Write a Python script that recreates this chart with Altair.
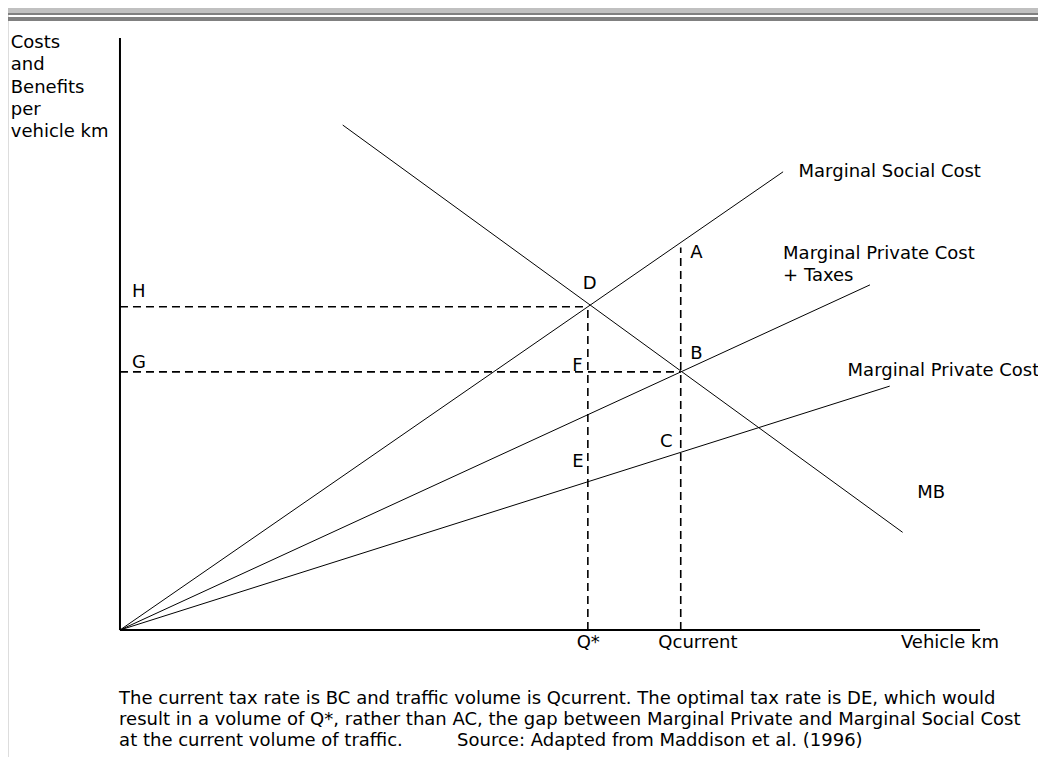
import altair as alt
import pandas as pd

# ---- data (axis units: 0..100 on both axes) ----
curve_names = ["Marginal Social Cost", "Marginal Private Cost + Taxes", "Marginal Private Cost", "MB"]
curve_x0 = [0.0, 0.0, 0.0, 25.9]
curve_y0 = [0.0, 0.0, 0.0, 85.3]
curve_x1 = [77.1, 87.2, 89.5, 91.0]
curve_y1 = [77.4, 58.3, 41.2, 16.5]

q_star = 54.4
q_current = 65.2
h_level = 54.6
g_level = 43.6
a_level = 64.6

# guide lines: (x, x2, y, y2)
guide_x = [0.0, 0.0, q_star, q_current]
guide_x2 = [q_star, q_current, q_star, q_current]
guide_y = [h_level, g_level, 0.0, 0.0]
guide_y2 = [h_level, g_level, h_level, a_level]

point_labels = ["H", "G", "D", "A", "B", "F", "C", "E"]
point_lx = [1.4, 1.4, 53.8, 66.3, 66.3, 52.6, 62.8, 52.6]
point_ly = [57.1, 45.1, 58.4, 63.7, 46.6, 44.6, 31.8, 28.4]

curve_labels = ["Marginal Social Cost", "Marginal Private Cost", "+ Taxes", "Marginal Private Cost", "MB"]
curve_lx = [78.9, 77.1, 77.1, 84.6, 92.7]
curve_ly = [77.4, 63.5, 59.8, 43.8, 23.1]

axis_labels = ["Q*", "Qcurrent", "Vehicle km"]
axis_lx = [53.1, 62.6, 90.8]
axis_ly = [-2.2, -2.2, -2.2]

ylabel_lines = ["Costs", "and", "Benefits", "per", "vehicle km"]
ylabel_x = -12.7
ylabel_y = [99.1, 95.4, 91.6, 87.8, 84.1]

caption_lines = [
    "The current tax rate is BC and traffic volume is Qcurrent. The optimal tax rate is DE, which would",
    "result in a volume of Q*, rather than AC, the gap between Marginal Private and Marginal Social Cost",
    "at the current volume of traffic.",
    "Source: Adapted from Maddison et al. (1996)",
]
caption_x = [-0.1, -0.1, -0.1, 39.2]
caption_y = [-11.7, -15.2, -18.75, -18.75]

# ---- scales: the plot area covers the whole canvas ----
W, H = 1030, 749
xs = alt.Scale(domain=[-13.02, 106.74], range=[0, W], nice=False, zero=False)
ys = alt.Scale(domain=[-21.45, 105.07], range=[H, 0], nice=False, zero=False)
FONT = "DejaVu Sans"

rows = []
for n, a, b, c, d in zip(curve_names, curve_x0, curve_y0, curve_x1, curve_y1):
    rows.append({"curve": n, "x": a, "y": b, "x2": c, "y2": d})
curves = pd.DataFrame(rows)

guides = pd.DataFrame({"x": guide_x, "x2": guide_x2, "y": guide_y, "y2": guide_y2})
axes_df = pd.DataFrame({"x": [0.0, 0.0], "x2": [0.0, 100.0], "y": [0.0, 0.0], "y2": [100.0, 0.0]})

def X(f="x"):
    return alt.X(f + ":Q", scale=xs, axis=None)

def Y(f="y"):
    return alt.Y(f + ":Q", scale=ys, axis=None)

one = pd.DataFrame({"k": [0]})
header = alt.Chart(one).mark_rect(color="#c0c0c0").encode(
    x=alt.value(0), x2=alt.value(W), y=alt.value(0), y2=alt.value(5))
band1 = alt.Chart(one).mark_rect(color="#808080").encode(
    x=alt.value(0), x2=alt.value(W), y=alt.value(5), y2=alt.value(7))
band2 = alt.Chart(one).mark_rect(color="#808080").encode(
    x=alt.value(0), x2=alt.value(W), y=alt.value(9), y2=alt.value(13))

axes = alt.Chart(axes_df).mark_rule(color="black", strokeWidth=2).encode(
    x=X(), x2="x2:Q", y=Y(), y2="y2:Q")

curve_layer = alt.Chart(curves).mark_rule(color="black", strokeWidth=1).encode(
    x=X(), x2="x2:Q", y=Y(), y2="y2:Q", detail="curve:N")

guide_layer = alt.Chart(guides).mark_rule(color="black", strokeWidth=1.6, strokeDash=[8, 5]).encode(
    x=X(), x2="x2:Q", y=Y(), y2="y2:Q")

def text_layer(labels, xs_, ys_, size=18, align="left"):
    df = pd.DataFrame({"t": labels, "x": xs_, "y": ys_})
    return alt.Chart(df).mark_text(
        font=FONT, fontSize=size, align=align, baseline="middle", color="black"
    ).encode(x=X(), y=Y(), text="t:N")

pts = text_layer(point_labels, point_lx, point_ly)
clabs = text_layer(curve_labels, curve_lx, curve_ly)
alabs = text_layer(axis_labels, axis_lx, axis_ly)
ylabs = text_layer(ylabel_lines, [ylabel_x] * len(ylabel_lines), ylabel_y, size=18)
caps = text_layer(caption_lines, caption_x, caption_y, size=18)

chart = alt.layer(
    header, band1, band2, axes, curve_layer, guide_layer, pts, clabs, alabs, ylabs, caps
).properties(
    width=W, height=H, padding=0, autosize=alt.AutoSizeParams(type="none"),
).configure_view(stroke=None).configure(background="white")

chart.save("out.html", embed_options={"renderer": "svg", "actions": False})
